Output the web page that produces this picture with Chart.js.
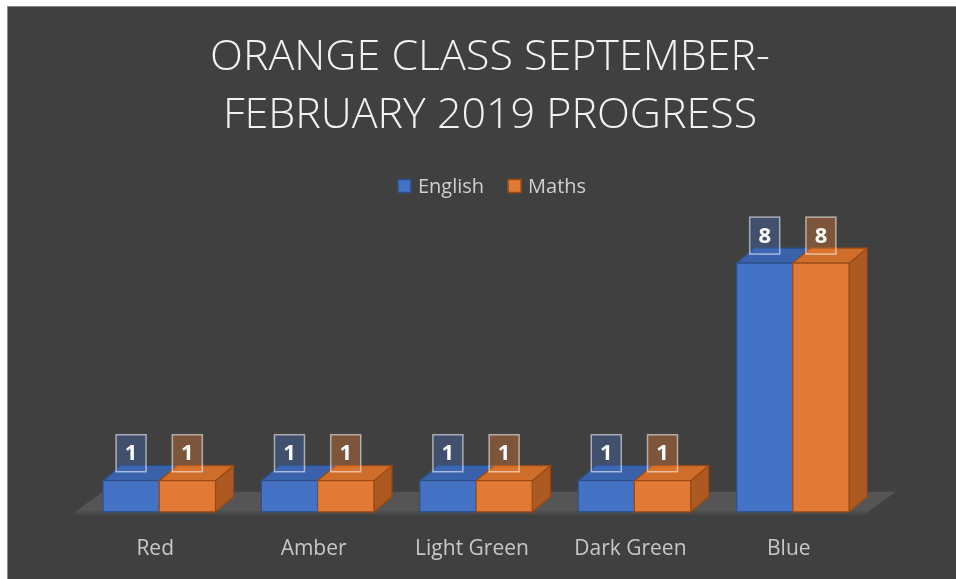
<!DOCTYPE html>
<html>
<head>
<meta charset="utf-8">
<script src="https://cdn.jsdelivr.net/npm/chart.js@4"></script>
<style>
    html, body { margin: 0; padding: 0; background: #ffffff; }
    #wrap { width: 956px; height: 579px; }
</style>
</head>
<body>
<div id="wrap"><canvas id="progressChart" width="956" height="579"></canvas></div>
<script>
// Chart data
const categories = ['Red', 'Amber', 'Light Green', 'Dark Green', 'Blue'];
const englishValues = [1, 1, 1, 1, 8];
const mathsValues = [1, 1, 1, 1, 8];
const titleLines = ['ORANGE CLASS SEPTEMBER-', 'FEBRUARY 2019 PROGRESS'];

// Face colours for the 3D look: front, top, side, edge
const faces = [
    { front: '#4472c4', top: '#3a62ab', side: '#2f548f', edge: '#2c4f8a', label: 'rgba(68, 114, 196, 0.35)' },
    { front: '#e07a35', top: '#cf6d2b', side: '#ad5a22', edge: '#9c4a14', label: 'rgba(237, 125, 49, 0.35)' }
];
const DEPTH_X = 18;
const DEPTH_Y = -15;
const FONT = '"Open Sans", sans-serif';

function poly(ctx, pts, fill, stroke) {
    ctx.beginPath();
    ctx.moveTo(pts[0][0], pts[0][1]);
    for (let i = 1; i < pts.length; i++) ctx.lineTo(pts[i][0], pts[i][1]);
    ctx.closePath();
    ctx.fillStyle = fill;
    ctx.fill();
    if (stroke) {
        ctx.strokeStyle = stroke;
        ctx.lineWidth = 1.2;
        ctx.stroke();
    }
}

// Background, border, title, legend and floor
const backdrop = {
    id: 'backdrop',
    beforeDraw(chart) {
        const ctx = chart.ctx;
        ctx.save();
        ctx.fillStyle = '#ffffff';
        ctx.fillRect(0, 0, chart.width, chart.height);
        ctx.fillStyle = '#404040';
        ctx.fillRect(7, 6, chart.width - 7, chart.height - 6);
        ctx.strokeStyle = '#8a8a8a';
        ctx.lineWidth = 1;
        ctx.strokeRect(7.5, 6.5, chart.width + 10, chart.height + 10);

        // title, two lines
        ctx.fillStyle = '#f2f2f2';
        ctx.font = '300 43px ' + FONT;
        ctx.textAlign = 'center';
        ctx.textBaseline = 'middle';
        titleLines.forEach((line, i) => ctx.fillText(line, 490, 58 + i * 58));

        // legend
        ctx.font = '20px ' + FONT;
        ctx.textAlign = 'left';
        const items = chart.data.datasets.map((d, i) => ({ text: d.label, w: ctx.measureText(d.label).width, f: faces[i] }));
        const total = items.reduce((s, it) => s + 13 + 7 + it.w, 0) + 24 * (items.length - 1);
        let x = 492 - total / 2;
        const cy = 186;
        items.forEach(it => {
            ctx.fillStyle = it.f.front;
            ctx.fillRect(x, cy - 6.5, 13, 13);
            ctx.strokeStyle = it.f.edge;
            ctx.lineWidth = 1.5;
            ctx.strokeRect(x, cy - 6.5, 13, 13);
            ctx.fillStyle = '#d0d0d0';
            ctx.fillText(it.text, x + 20, cy + 1);
            x += 20 + it.w + 24;
        });
        ctx.restore();
    },
    beforeDatasetsDraw(chart) {
        const ctx = chart.ctx;
        const area = chart.chartArea;
        const base = chart.scales.y.getPixelForValue(0);
        const l = area.left - 5, r = area.right - 4;
        ctx.save();
        poly(ctx, [[l, base], [r, base], [r + 28, base - 20], [l + 28, base - 20]], '#555555');
        poly(ctx, [[l, base], [r, base], [r, base + 3], [l, base + 3]], '#4a4a4a');
        ctx.restore();
    }
};

// Redraw each bar as a box with top and side faces, plus value labels
const bars3d = {
    id: 'bars3d',
    afterDatasetsDraw(chart) {
        const ctx = chart.ctx;
        ctx.save();
        const metas = chart.data.datasets.map((d, i) => chart.getDatasetMeta(i));
        categories.forEach((c, i) => {
            metas.forEach((meta, d) => {
                const bar = meta.data[i];
                const f = faces[d];
                const x0 = bar.x - bar.width / 2, x1 = bar.x + bar.width / 2;
                const yt = bar.y, yb = bar.base;
                poly(ctx, [[x1, yb], [x1, yt], [x1 + DEPTH_X, yt + DEPTH_Y], [x1 + DEPTH_X, yb + DEPTH_Y]], f.side, f.edge);
                poly(ctx, [[x0, yt], [x1, yt], [x1 + DEPTH_X, yt + DEPTH_Y], [x0 + DEPTH_X, yt + DEPTH_Y]], f.top, f.edge);
                poly(ctx, [[x0, yb], [x1, yb], [x1, yt], [x0, yt]], f.front, f.edge);
            });
        });
        // value labels
        metas.forEach((meta, d) => {
            const values = chart.data.datasets[d].data;
            meta.data.forEach((bar, i) => {
                const w = 30, h = 37;
                const bx = bar.x - w / 2, by = bar.y - 9 - h;
                ctx.fillStyle = faces[d].label;
                ctx.fillRect(bx, by, w, h);
                ctx.strokeStyle = 'rgba(255, 255, 255, 0.55)';
                ctx.lineWidth = 1.5;
                ctx.strokeRect(bx, by, w, h);
                ctx.fillStyle = '#ffffff';
                ctx.font = 'bold 22px ' + FONT;
                ctx.textAlign = 'center';
                ctx.textBaseline = 'middle';
                ctx.fillText(String(values[i]), bar.x, by + h / 2 + 1);
            });
        });
        ctx.restore();
    }
};

new Chart(document.getElementById('progressChart'), {
    type: 'bar',
    data: {
        labels: categories,
        datasets: [
            {
                label: 'English',
                data: englishValues,
                backgroundColor: faces[0].front,
                borderColor: faces[0].edge,
                borderWidth: 1
            },
            {
                label: 'Maths',
                data: mathsValues,
                backgroundColor: faces[1].front,
                borderColor: faces[1].edge,
                borderWidth: 1
            }
        ]
    },
    options: {
        responsive: false,
        animation: false,
        layout: {
            padding: { left: 80, right: 84, top: 232, bottom: -8 }
        },
        datasets: {
            bar: {
                barPercentage: 1,
                categoryPercentage: 0.71
            }
        },
        plugins: {
            title: { display: false },
            legend: { display: false },
            tooltip: { enabled: false }
        },
        scales: {
            x: {
                grid: { display: false, drawTicks: false },
                border: { display: false },
                ticks: {
                    color: '#c8c8c8',
                    padding: 25,
                    labelOffset: -4,
                    font: { family: FONT, size: 21 }
                }
            },
            y: {
                display: false,
                min: 0,
                max: 9
            }
        }
    },
    plugins: [backdrop, bars3d]
});
</script>
</body>
</html>
